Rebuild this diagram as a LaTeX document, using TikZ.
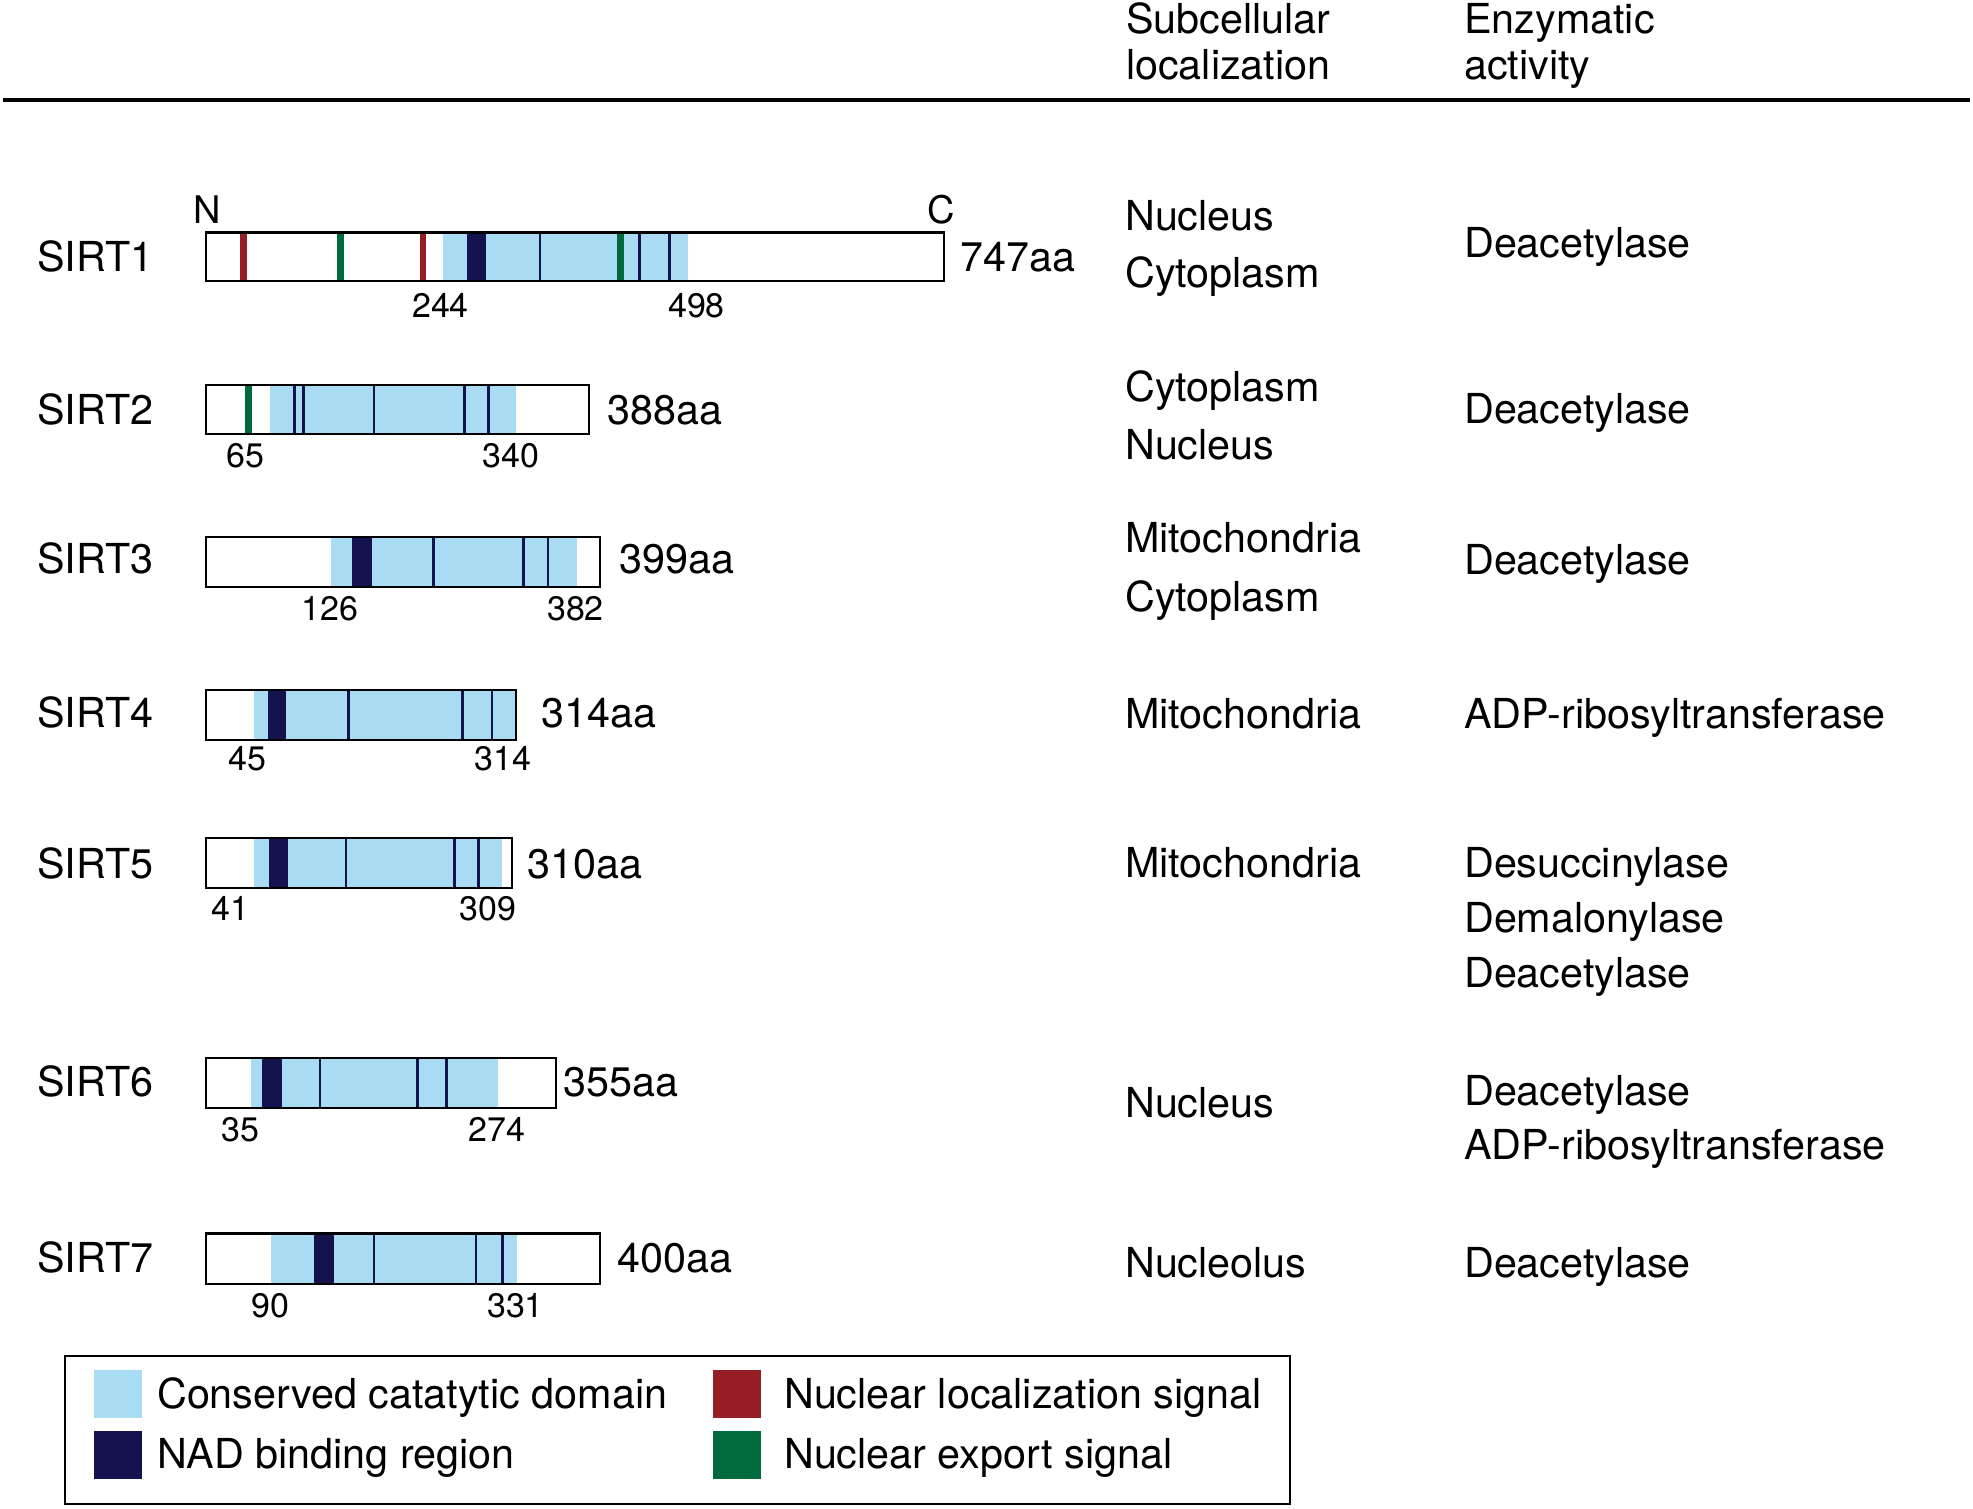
\documentclass[tikz,border=0pt]{standalone}
\usepackage{fontspec}
\setmainfont{TeX Gyre Heros}
\definecolor{domblue}{RGB}{169,219,243}
\definecolor{nadnavy}{RGB}{21,19,79}
\definecolor{nlsred}{RGB}{149,30,38}
\definecolor{nesgreen}{RGB}{0,106,60}
\begin{document}
\begin{tikzpicture}[x=1pt,y=-1pt,
  lbl/.style={inner sep=0pt,anchor=base west,font=\fontsize{41.3}{49}\selectfont},
  num/.style={inner sep=0pt,anchor=base,font=\fontsize{34}{40}\selectfont},
  term/.style={inner sep=0pt,anchor=base,font=\fontsize{38}{44}\selectfont},
  protbox/.style={draw=black,line width=2.9pt},
  thinnad/.style={draw=nadnavy,line width=2.6pt},
  nls/.style={draw=nlsred,line width=6.5pt},
  nes/.style={draw=nesgreen,line width=6.5pt},
  legbox/.style={draw=black,line width=1.8pt}]
\useasboundingbox (0,0) rectangle (1973,1509);

% header
\node[lbl] (h1a) at (1126,33.5) {Subcellular};
\node[lbl] (h1b) at (1126,80) {localization};
\node[lbl] (h2a) at (1464,33.5) {Enzymatic};
\node[lbl] (h2b) at (1464,80) {activity};
\draw[line width=3.3pt] (3,100) -- (1970,100);

% ---------- SIRT1 ----------
\fill[domblue] (443.3,232.5) rectangle (688.3,281);
\fill[nadnavy] (467.3,232.5) rectangle (486,281);
\foreach \x in {540,639.3,669.3} \draw[thinnad] (\x,232.5) -- (\x,281);
\foreach \x in {243.3,423} \draw[nls] (\x,232.5) -- (\x,281);
\foreach \x in {340.7,620.7} \draw[nes] (\x,232.5) -- (\x,281);
\draw[protbox] (206,232.5) rectangle (944,281);
\node[term] (n1) at (207,223) {N};
\node[term] (c1) at (941,223) {C};
\node[lbl] (s1) at (37,271) {SIRT1};
\node[lbl] (aa1) at (960,271) {747aa};
\node[num] (a1) at (440.5,317) {244};
\node[num] (b1) at (696.5,317) {498};

% ---------- SIRT2 ----------
\fill[domblue] (270.3,385) rectangle (516.3,434);
\foreach \x in {294.7,303.5,374,464.2,488.6} \draw[thinnad] (\x,385) -- (\x,434);
\draw[nes] (248.4,385) -- (248.4,434);
\draw[protbox] (206,385) rectangle (589,434);
\node[lbl] (s2) at (37,424) {SIRT2};
\node[lbl] (aa2) at (607.5,424) {388aa};
\node[num] (a2) at (245,467.5) {65};
\node[num] (b2) at (511,467.5) {340};

% ---------- SIRT3 ----------
\fill[domblue] (331.2,537) rectangle (577.2,587);
\fill[nadnavy] (352.2,537) rectangle (371.6,587);
\foreach \x in {433.5,523.6,548} \draw[thinnad] (\x,537) -- (\x,587);
\draw[protbox] (206,537) rectangle (600,587);
\node[lbl] (s3) at (37,573) {SIRT3};
\node[lbl] (aa3) at (619,573) {399aa};
\node[num] (a3) at (330,620.5) {126};
\node[num] (b3) at (575.5,620.5) {382};

% ---------- SIRT4 ----------
\fill[domblue] (254.3,690) rectangle (517,740);
\fill[nadnavy] (268,690) rectangle (286.4,740);
\foreach \x in {348.3,462.7,492} \draw[thinnad] (\x,690) -- (\x,740);
\draw[protbox] (206,690) rectangle (516,740);
\node[lbl] (s4) at (37,727) {SIRT4};
\node[lbl] (aa4) at (541,727) {314aa};
\node[num] (a4) at (247.5,770) {45};
\node[num] (b4) at (503,770) {314};

% ---------- SIRT5 ----------
\fill[domblue] (254.3,838) rectangle (501.7,888);
\fill[nadnavy] (269.4,838) rectangle (287.9,888);
\foreach \x in {345.8,454.5,478.3} \draw[thinnad] (\x,838) -- (\x,888);
\draw[protbox] (206,838) rectangle (512,888);
\node[lbl] (s5) at (37,878) {SIRT5};
\node[lbl] (aa5) at (527,878) {310aa};
\node[num] (a5) at (230.5,920.5) {41};
\node[num] (b5) at (488,920.5) {309};

% ---------- SIRT6 ----------
\fill[domblue] (250.9,1058) rectangle (497.8,1108);
\fill[nadnavy] (262,1058) rectangle (281.5,1108);
\foreach \x in {320,417.4,446.7} \draw[thinnad] (\x,1058) -- (\x,1108);
\draw[protbox] (206,1058) rectangle (556,1108);
\node[lbl] (s6) at (37,1096) {SIRT6};
\node[lbl] (aa6) at (563,1096) {355aa};
\node[num] (a6) at (240,1141.5) {35};
\node[num] (b6) at (497,1141.5) {274};

% ---------- SIRT7 ----------
\fill[domblue] (270.8,1233.5) rectangle (517.3,1284);
\fill[nadnavy] (314.2,1233.5) rectangle (333.7,1284);
\foreach \x in {374,475.9,502.7} \draw[thinnad] (\x,1233.5) -- (\x,1284);
\draw[protbox] (206,1233.5) rectangle (600,1284);
\node[lbl] (s7) at (37,1272) {SIRT7};
\node[lbl] (aa7) at (617,1272) {400aa};
\node[num] (a7) at (270,1317) {90};
\node[num] (b7) at (515.5,1317) {331};

% ---------- localization column ----------
\node[lbl] (l1a) at (1125,230) {Nucleus};
\node[lbl] (l1b) at (1125,287) {Cytoplasm};
\node[lbl] (l2a) at (1125,401) {Cytoplasm};
\node[lbl] (l2b) at (1125,459) {Nucleus};
\node[lbl] (l3a) at (1125,552) {Mitochondria};
\node[lbl] (l3b) at (1125,611) {Cytoplasm};
\node[lbl] (l4) at (1125,728) {Mitochondria};
\node[lbl] (l5) at (1125,877) {Mitochondria};
\node[lbl] (l6) at (1125,1117) {Nucleus};
\node[lbl] (l7) at (1125,1277) {Nucleolus};

% ---------- activity column ----------
\node[lbl] (e1) at (1464,257) {Deacetylase};
\node[lbl] (e2) at (1464,423) {Deacetylase};
\node[lbl] (e3) at (1464,574) {Deacetylase};
\node[lbl] (e4) at (1464,728) {ADP-ribosyltransferase};
\node[lbl] (e5a) at (1464,877) {Desuccinylase};
\node[lbl] (e5b) at (1464,932.5) {Demalonylase};
\node[lbl] (e5c) at (1464,987) {Deacetylase};
\node[lbl] (e6a) at (1464,1105.5) {Deacetylase};
\node[lbl] (e6b) at (1464,1159.5) {ADP-ribosyltransferase};
\node[lbl] (e7) at (1464,1277) {Deacetylase};

% ---------- legend ----------
\draw[legbox] (65,1356) rectangle (1290,1504);
\fill[domblue] (93.5,1370) rectangle (141.5,1418);
\fill[nadnavy] (93.5,1431) rectangle (141.5,1479);
\fill[nlsred] (713,1370) rectangle (761,1418);
\fill[nesgreen] (713,1431) rectangle (761,1479);
\node[lbl] (g1) at (157,1408) {Conserved catatytic domain};
\node[lbl] (g2) at (157,1468) {NAD binding region};
\node[lbl] (g3) at (784,1408) {Nuclear localization signal};
\node[lbl] (g4) at (784,1468) {Nuclear export signal};
\end{tikzpicture}
\end{document}
